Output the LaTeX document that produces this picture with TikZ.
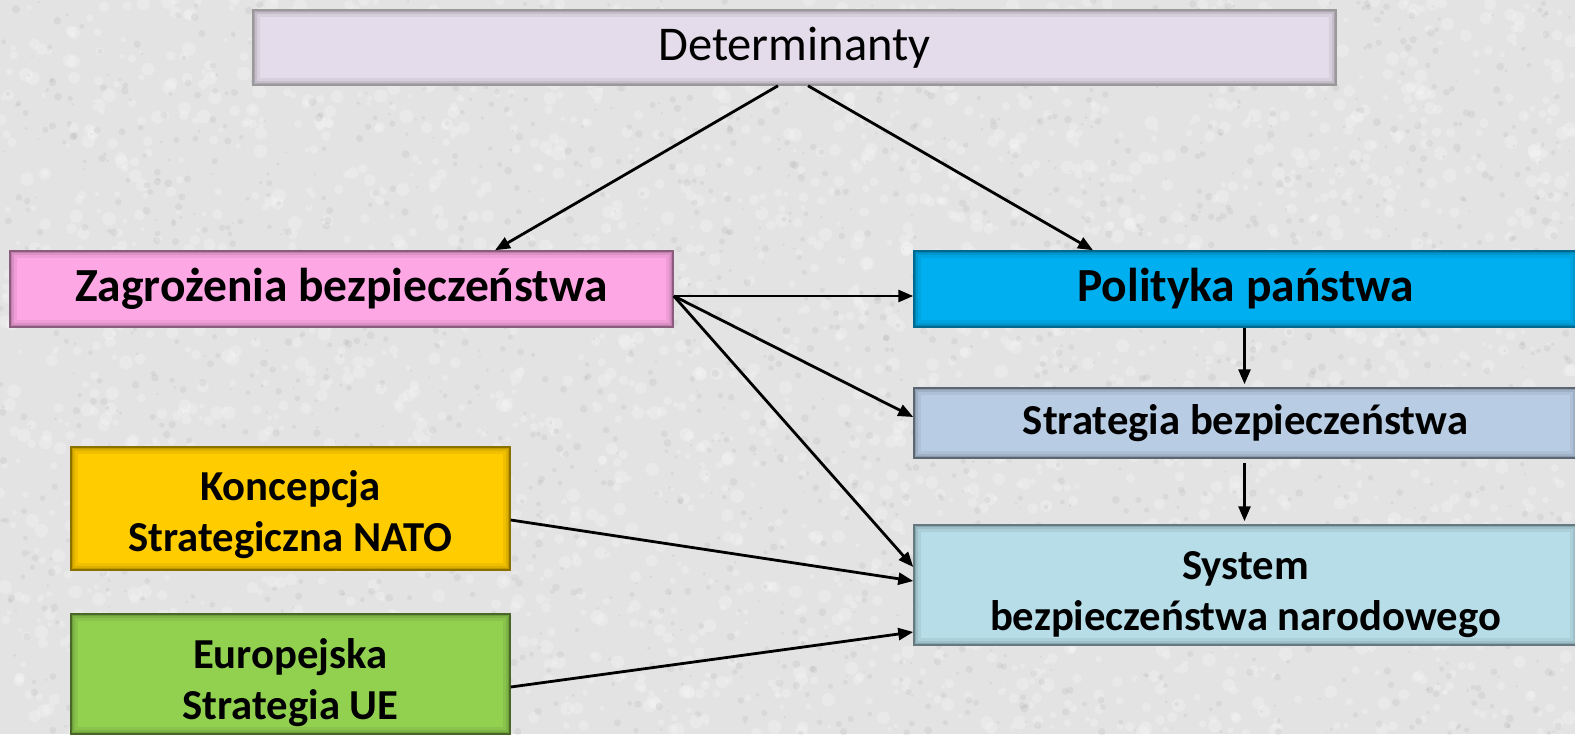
\documentclass[tikz,border=0pt]{standalone}
\usepackage{fontspec}
\setmainfont{Carlito}
\usetikzlibrary{arrows.meta}
\definecolor{bgc}{HTML}{E3E3E3}
\definecolor{detc}{HTML}{E4DCEA}
\definecolor{zagc}{HTML}{FDA7E4}
\definecolor{polc}{HTML}{00AFEF}
\definecolor{strc}{HTML}{B8CCE4}
\definecolor{sysc}{HTML}{B7DDE8}
\definecolor{konc}{HTML}{FFCC00}
\definecolor{euc}{HTML}{92D050}
\newcommand\topgap[1]{\rule{0pt}{#1}}
\tikzset{
  box/.style={rectangle, inner sep=0pt, align=center, text=black,
    path picture={
      \draw[black, opacity=0.06, line width=14pt] (path picture bounding box.south west) rectangle (path picture bounding box.north east);
      \draw[black, opacity=0.08, line width=8pt] (path picture bounding box.south west) rectangle (path picture bounding box.north east);
      \draw[black, opacity=0.12, line width=4pt] (path picture bounding box.south west) rectangle (path picture bounding box.north east);
    }},
  bigreg/.style={font=\fontsize{48.5}{58}\selectfont},
  bigbold/.style={font=\bfseries\fontsize{47.5}{57}\selectfont},
  mid/.style={font=\bfseries\fontsize{42.7}{51}\selectfont},
  conn/.style={-{Triangle[length=15pt,width=12pt]}, line width=2.8pt, black},
}
\begin{document}
\begin{tikzpicture}[x=1pt,y=-1pt]
\useasboundingbox (0,0) rectangle (1575,734);
\fill[bgc] (0,0) rectangle (1575,734);
\begin{scope}
\clip (0,0) rectangle (1575,734);
\pgfmathsetseed{4242}
\foreach \i in {1,...,2600}{
  \pgfmathsetmacro{\px}{rnd*1575}
  \pgfmathsetmacro{\py}{rnd*734}
  \pgfmathsetmacro{\pr}{2+rnd*5}
  \fill[white, opacity=0.22] (\px,\py) circle[radius=\pr pt];
}
\foreach \i in {1,...,2000}{
  \pgfmathsetmacro{\px}{rnd*1575}
  \pgfmathsetmacro{\py}{rnd*734}
  \pgfmathsetmacro{\pr}{1+rnd*3}
  \fill[black!45, opacity=0.12] (\px,\py) circle[radius=\pr pt];
}
\node[box, bigreg, fill=detc, draw=black!40, line width=1.5pt, minimum width=1083pt, minimum height=75pt] (det) at (794.5,47.5) {Determinanty};
\node[box, bigbold, fill=zagc, draw=zagc!55!black, line width=1.5pt, minimum width=663pt, minimum height=76pt] (zag) at (341.5,289) {Zagrożenia bezpieczeństwa};
\node[box, bigbold, fill=polc, draw=polc!60!black, line width=1.5pt, minimum width=663pt, minimum height=76pt] (pol) at (1245.5,289) {Polityka państwa};
\node[box, mid, fill=strc, draw=strc!50!black, line width=1.5pt, minimum width=663pt, minimum height=70pt] (str) at (1245.5,423) {Strategia bezpieczeństwa};
\node[box, mid, fill=sysc, draw=sysc!55!black, line width=1.5pt, minimum width=663pt, minimum height=120pt] (sys) at (1245.5,585) {\topgap{48pt}System\\bezpieczeństwa narodowego};
\node[box, mid, fill=konc, draw=konc!55!black, line width=1.5pt, minimum width=439pt, minimum height=123pt] (kon) at (290.5,508.5) {\topgap{42pt}Koncepcja\\Strategiczna NATO};
\node[box, mid, fill=euc, draw=euc!50!black, line width=1.5pt, minimum width=439pt, minimum height=120pt] (eu) at (290.5,674) {\topgap{48pt}Europejska\\Strategia UE};
\end{scope}
\draw[conn] ([xshift=-16.5pt]det.south) -- ([xshift=153.5pt]zag.north);
\draw[conn] ([xshift=13.5pt]det.south) -- ([xshift=-152.5pt]pol.north);
\draw[conn] ([yshift=-7pt]zag.east) -- ([yshift=-7pt]pol.west);
\draw[conn] ([yshift=-7pt]zag.east) -- ([yshift=6pt]str.west);
\draw[conn] ([yshift=-7pt]zag.east) -- ([yshift=18pt]sys.west);
\draw[conn] ([yshift=-11.5pt]kon.east) -- ([yshift=4pt]sys.west);
\draw[conn] ([yshift=-13pt]eu.east) -- ([yshift=-47pt]sys.west);
\draw[conn] ([xshift=-1pt]pol.south) -- ([xshift=-1pt,yshift=3pt]str.north);
\draw[conn] ([xshift=-1pt,yshift=-4pt]str.south) -- ([xshift=-1pt,yshift=3pt]sys.north);
\end{tikzpicture}
\end{document}
